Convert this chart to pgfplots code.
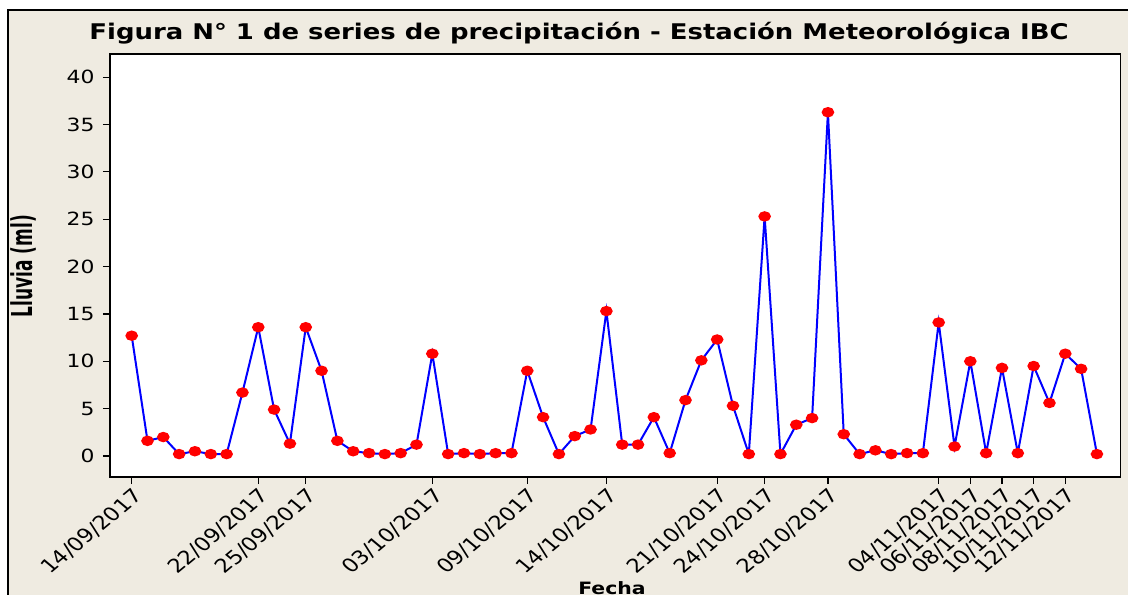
\documentclass[border=0pt]{standalone}
\usepackage{fontspec}
\setmainfont{DejaVu Sans}
\usepackage{graphicx}
\usepackage{pgfplots}
\pgfplotsset{compat=1.18}
\usepackage{pgfplotstable}
\definecolor{bgbeige}{RGB}{239,235,225}
\pgfplotstableread{
i v
1 12.7
2 1.6
3 2.0
4 0.2
5 0.5
6 0.2
7 0.2
8 6.7
9 13.6
10 4.9
11 1.3
12 13.6
13 9.0
14 1.6
15 0.5
16 0.3
17 0.2
18 0.3
19 1.2
20 10.8
21 0.2
22 0.3
23 0.2
24 0.3
25 0.3
26 9.0
27 4.1
28 0.2
29 2.1
30 2.8
31 15.3
32 1.2
33 1.2
34 4.1
35 0.3
36 5.9
37 10.1
38 12.3
39 5.3
40 0.2
41 25.3
42 0.2
43 3.3
44 4.0
45 36.3
46 2.3
47 0.2
48 0.6
49 0.2
50 0.3
51 0.3
52 14.1
53 1.0
54 10.0
55 0.3
56 9.3
57 0.3
58 9.5
59 5.6
60 10.8
61 9.2
62 0.2
}\rain
\begin{document}
\begin{tikzpicture}
\useasboundingbox (-55pt,-58.5pt) rectangle (509pt,238.5pt);
\draw[line width=1pt, fill=bgbeige] (-51pt,-80pt) rectangle (530pt,233.5pt);
\begin{axis}[
  scale only axis, width=505.25pt, height=211.5pt,
  xmin=-0.37, xmax=63.49, ymin=-2.22, ymax=42.45,
  axis background/.style={fill=white},
  axis line style={line width=0.8pt},
  tick style={black, line width=0.6pt},
  tick align=outside, major tick length=3.5pt,
  tick pos=left,
  xtick={1,9,12,20,26,31,38,41,45,52,54,56,58,60},
  xticklabels={14/09/2017,22/09/2017,25/09/2017,03/10/2017,09/10/2017,14/10/2017,21/10/2017,24/10/2017,28/10/2017,04/11/2017,06/11/2017,08/11/2017,10/11/2017,12/11/2017},
  ytick={0,5,...,40},
  yticklabel style={font=\fontsize{9.1}{11}\selectfont, xscale=1.2, anchor=east},
  xticklabel style={font=\fontsize{9.5}{11}\selectfont, xscale=1.2, rotate=45, anchor=north east, inner sep=1pt},
  /pgf/number format/assume math mode=true,
]
\addplot[color={rgb,255:red,0;green,0;blue,255}, line width=1pt, mark=*, mark size=2.1pt, mark options={fill=red, draw=red, xscale=1.25}] table[x=i,y=v]{\rain};
\end{axis}
\node[anchor=base, font=\bfseries\fontsize{10.8}{12}\selectfont, xscale=1.2] at (234.5pt,218.5pt) {Figura N° 1 de series de precipitación - Estación Meteorológica IBC};
\node[rotate=90, anchor=base, inner sep=0pt] at (-38.5pt,105.5pt) {\scalebox{0.708}[1.2]{\bfseries\fontsize{12}{14}\selectfont Lluvia (ml)}};
\node[anchor=base, font=\bfseries\fontsize{8.5}{10}\selectfont, xscale=1.2] at (251pt,-58.75pt) {Fecha};
\end{tikzpicture}
\end{document}
